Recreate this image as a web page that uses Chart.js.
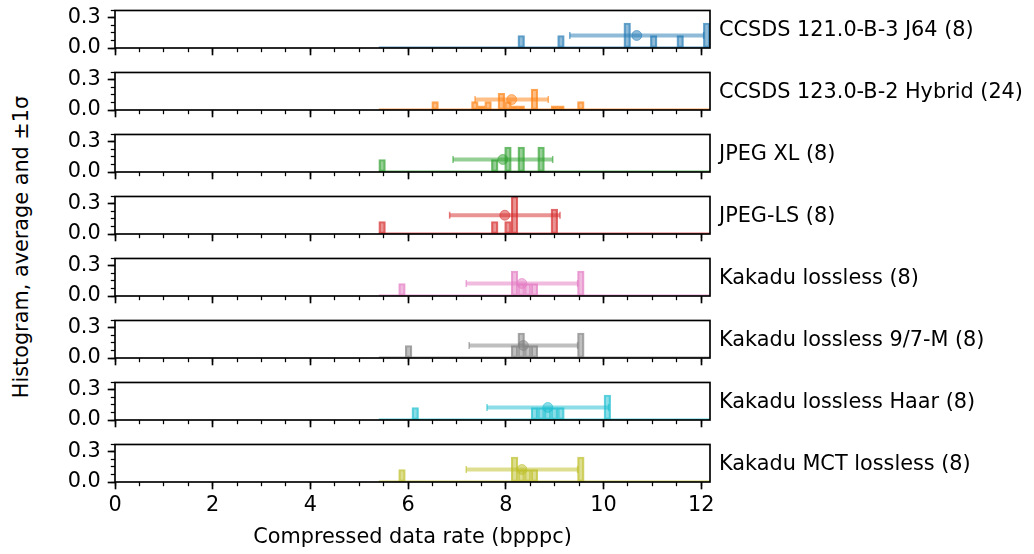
<!DOCTYPE html>
<html lang="en">
<head>
  <meta charset="UTF-8" />
  <title>Compressed data rate histograms</title>
  <script src="https://cdn.jsdelivr.net/npm/chart.js"></script>
  <style>
    body { margin: 0; background: #fff; font-family: "DejaVu Sans", sans-serif; overflow: hidden; }
    #fig { position: relative; width: 1034px; height: 554px; overflow: hidden; }
    #fig canvas { position: absolute; left: 0; }
    .name { position: absolute; left: 719px; font-size: 20.8px; color: #000; white-space: nowrap; transform: translateY(-50%); }
    #ylabel { position: absolute; left: 21px; top: 247px; transform: translate(-50%, -50%) rotate(-90deg); font-size: 20.8px; color: #000; white-space: nowrap; }
  </style>
</head>
<body>
  <div id="fig">
    <div id="ylabel">Histogram, average and ±1σ</div>
  </div>

  <script>
    // one panel per codec
    const names = [
      'CCSDS 121.0-B-3 J64 (8)',
      'CCSDS 123.0-B-2 Hybrid (24)',
      'JPEG XL (8)',
      'JPEG-LS (8)',
      'Kakadu lossless (8)',
      'Kakadu lossless 9/7-M (8)',
      'Kakadu lossless Haar (8)',
      'Kakadu MCT lossless (8)'
    ];
    const colors = ['#1f77b4', '#ff7f0e', '#2ca02c', '#d62728', '#e377c2', '#7f7f7f', '#17becf', '#bcbd22'];

    // shared histogram bins
    const binRange = [5.40, 12.18];
    const binCount = 50;

    // non-empty bins (index) and their heights (fraction of images)
    const histBins = [
      [21, 27, 37, 41, 45, 49],
      [8, 14, 15, 16, 18, 19, 20, 21, 23, 26, 27, 30],
      [0, 17, 19, 21, 24],
      [0, 17, 19, 20, 26],
      [3, 20, 21, 22, 23, 30],
      [4, 20, 21, 22, 23, 30],
      [5, 23, 24, 25, 26, 27, 34],
      [3, 20, 21, 22, 23, 30]
    ];
    const histHeights = [
      [0.125, 0.125, 0.25, 0.125, 0.125, 0.25],
      [0.083, 0.083, 0.042, 0.083, 0.167, 0.083, 0.042, 0.042, 0.208, 0.042, 0.042, 0.083],
      [0.125, 0.125, 0.25, 0.25, 0.25],
      [0.125, 0.125, 0.125, 0.375, 0.25],
      [0.125, 0.25, 0.125, 0.125, 0.125, 0.25],
      [0.125, 0.125, 0.25, 0.125, 0.125, 0.25],
      [0.125, 0.125, 0.125, 0.125, 0.125, 0.125, 0.25],
      [0.125, 0.25, 0.125, 0.125, 0.125, 0.25]
    ];

    // average, standard deviation, and the height the error bar is drawn at
    const means = [10.68, 8.12, 7.94, 7.98, 8.33, 8.36, 8.86, 8.33];
    const sigmas = [1.37, 0.75, 1.02, 1.13, 1.14, 1.11, 1.245, 1.14];
    const errY = [0.125, 0.104, 0.125, 0.1875, 0.125, 0.125, 0.125, 0.125];

    const xMax = 12.18;
    const xMajor = 2, xMinor = 0.5;
    const yMax = 0.375;
    const yMajor = 0.3, yMinor = 0.075;
    const xTitle = 'Compressed data rate (bpppc)';

    // layout (px)
    const firstTop = 9, pitch = 62, panelH = 39, padTop = 18;
    const plotLeft = 115, plotRight = 710;
    const W = 1034, H = 554;
    const fontSize = 20.8;
    const lw = 1.67;

    Chart.defaults.font.family = '"DejaVu Sans", sans-serif';
    Chart.defaults.font.size = fontSize;
    Chart.defaults.color = '#000';

    function rgba(hex, a) {
      const n = parseInt(hex.slice(1), 16);
      return `rgba(${(n >> 16) & 255},${(n >> 8) & 255},${n & 255},${a})`;
    }

    const frame = {
      id: 'frame',
      afterDraw(chart) {
        const { ctx, chartArea: a } = chart;
        ctx.save();
        ctx.strokeStyle = '#000';
        ctx.lineWidth = lw;
        ctx.strokeRect(a.left, a.top, a.right - a.left, a.bottom - a.top);
        ctx.restore();
      }
    };

    const fig = document.getElementById('fig');
    const binW = (binRange[1] - binRange[0]) / binCount;

    names.forEach((name, i) => {
      const last = i === names.length - 1;
      const top = firstTop + i * pitch;
      const canvasTop = top - padTop;
      const h = last ? H - canvasTop : padTop + panelH + 22;
      const xAxisH = h - padTop - panelH;

      const cv = document.createElement('canvas');
      cv.width = W;
      cv.height = h;
      cv.style.top = canvasTop + 'px';
      fig.appendChild(cv);

      const label = document.createElement('div');
      label.className = 'name';
      label.textContent = name;
      label.style.top = (top + panelH / 2) + 'px';
      fig.appendChild(label);

      const c = colors[i];
      const heights = new Array(binCount).fill(0);
      histBins[i].forEach((b, j) => { heights[b] = histHeights[i][j]; });
      const bars = heights.map((v, k) => ({ x: binRange[0] + (k + 0.5) * binW, y: v }));

      new Chart(cv, {
        type: 'bar',
        data: {
          datasets: [
            {
              type: 'scatter',
              data: [{ x: means[i], y: errY[i] }],
              pointRadius: 5,
              pointBackgroundColor: rgba(c, 0.5),
              pointBorderColor: rgba(c, 0.5),
              pointBorderWidth: 1,
              xAxisID: 'x', yAxisID: 'y',
              order: 1
            },
            {
              type: 'line',
              data: [{ x: means[i] - sigmas[i], y: errY[i] }, { x: means[i] + sigmas[i], y: errY[i] }],
              borderColor: rgba(c, 0.5),
              borderWidth: 4,
              pointStyle: 'line',
              rotation: 90,
              pointRadius: 3.5,
              pointBorderWidth: 1.5,
              pointBorderColor: rgba(c, 0.6),
              xAxisID: 'x', yAxisID: 'y',
              order: 2
            },
            {
              data: bars,
              backgroundColor: rgba(c, 0.5),
              borderColor: rgba(c, 0.7),
              borderWidth: 1.5,
              borderSkipped: false,
              barPercentage: 1,
              categoryPercentage: 1,
              grouped: false,
              xAxisID: 'x', yAxisID: 'y',
              order: 3
            },
            {
              type: 'line',
              data: [{ x: binRange[0], y: 0 }, { x: binRange[1], y: 0 }],
              borderColor: rgba(c, 0.7),
              borderWidth: 3,
              pointRadius: 0,
              xAxisID: 'x', yAxisID: 'y',
              order: 4
            }
          ]
        },
        options: {
          responsive: false,
          animation: false,
          devicePixelRatio: 1,
          layout: { padding: { top: padTop, right: W - plotRight, left: 0, bottom: 0 } },
          plugins: { legend: { display: false }, tooltip: { enabled: false } },
          scales: {
            x: {
              type: 'linear', position: 'bottom', weight: 1, offset: false,
              min: 0, max: xMax,
              ticks: { display: last, stepSize: xMajor, includeBounds: false, padding: 4, maxRotation: 0 },
              grid: { drawOnChartArea: false, offset: false, tickLength: 7.3, tickWidth: lw, tickColor: '#000' },
              border: { display: false },
              title: { display: last, text: xTitle, padding: { top: 4, bottom: 4 } },
              afterFit: s => { s.height = xAxisH; }
            },
            xm: {
              type: 'linear', position: 'bottom', weight: 0, offset: false,
              min: 0, max: xMax,
              ticks: { display: false, stepSize: xMinor, includeBounds: false },
              grid: { drawOnChartArea: false, offset: false, tickLength: 4.2, tickWidth: 1.25, tickColor: '#000' },
              border: { display: false },
              afterFit: s => { s.height = 0; }
            },
            y: {
              type: 'linear', position: 'left', weight: 1,
              min: 0, max: yMax,
              ticks: { stepSize: yMajor, includeBounds: false, padding: 7, callback: v => v.toFixed(1) },
              grid: { drawOnChartArea: false, tickLength: 7.3, tickWidth: lw, tickColor: '#000' },
              border: { display: false },
              afterFit: s => { s.width = plotLeft; }
            },
            ym: {
              type: 'linear', position: 'left', weight: 0,
              min: 0, max: yMax,
              ticks: { display: false, stepSize: yMinor, includeBounds: false },
              grid: { drawOnChartArea: false, tickLength: 4.2, tickWidth: 1.25, tickColor: '#000' },
              border: { display: false },
              afterFit: s => { s.width = 0; }
            }
          }
        },
        plugins: [frame]
      });
    });
  </script>
</body>
</html>
